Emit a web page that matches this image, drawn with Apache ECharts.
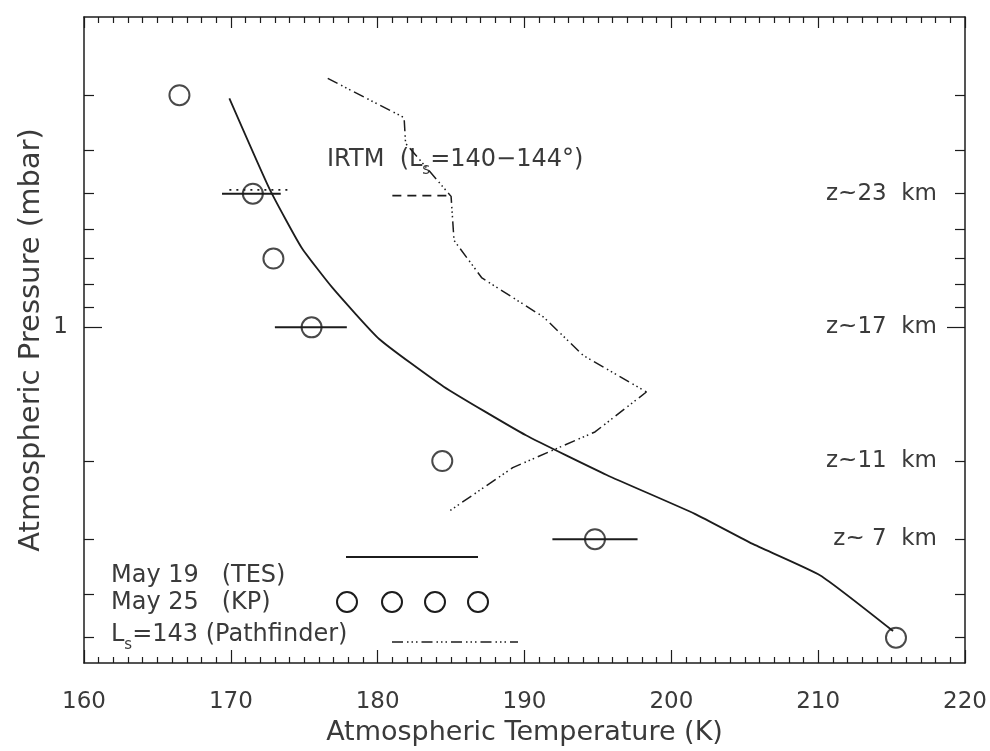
<!DOCTYPE html>
<html><head><meta charset="utf-8">
<script src="https://cdn.jsdelivr.net/npm/echarts@6/dist/echarts.min.js"></script>
<style>html,body{margin:0;padding:0;background:#fff}#c{width:990px;height:751px}</style>
</head><body><div id="c"></div>
<script>
// ---- data ----
const xTickValues = [160, 170, 180, 190, 200, 210, 220];
const pMinorTicks = [0.3, 0.4, 0.5, 0.6, 0.7, 0.8, 0.9, 2, 3, 4, 5];
const pMajorTicks = [1];
const zLabelValues = [0.5, 1, 2, 3];
const zLabels = ['z~23  km', 'z~17  km', 'z~11  km', 'z~ 7  km'];

// TES (May 19) profile
const tesT = [169.9, 172.65, 174.8, 176.9, 180.1, 184.5, 190.1, 195.6, 201.6, 205.5, 210.15, 215.1];
const tesP = [0.305, 0.489, 0.66, 0.813, 1.062, 1.36, 1.75, 2.15, 2.63, 3.07, 3.62, 4.83];

// KP (May 25) points
const kpT = [166.5, 171.5, 172.9, 175.5, 184.4, 194.8, 215.3];
const kpP = [0.3, 0.5, 0.7, 1.0, 2.0, 3.0, 5.0];

// horizontal range bars
const barP = [0.5, 1.0, 3.0];
const barLo = [169.4, 173.0, 191.9];
const barHi = [173.4, 177.9, 197.7];
const dotP = [0.49];
const dotLo = [169.9];
const dotHi = [173.9];
const dashP = [0.505];
const dashLo = [181.0];
const dashHi = [185.0];

// Pathfinder (Ls=143)
const pfT = [176.6, 181.8, 181.9, 185.0, 185.2, 187.1, 191.3, 194.0, 198.3, 194.8, 192.0, 189.2, 184.9];
const pfP = [0.275, 0.337, 0.385, 0.507, 0.637, 0.774, 0.948, 1.157, 1.398, 1.72, 1.886, 2.07, 2.59];

// ---- chart ----
const INK = '#1c1c1c';
const TXT = '#3a3a3a';
const FONT = 'DejaVu Sans';
const pfDash = [11, 4, 1.5, 3, 1.5, 3, 1.5, 4];

const zip = (a, b) => a.map((v, i) => [v, b[i]]);
const axisLine = { show: true, lineStyle: { color: INK, width: 1.5 } };
const tickStyle = { color: INK, width: 1.2 };

const baseY = {
  type: 'log', logBase: 10, min: 0.2, max: 5.7, inverse: true,
  splitLine: { show: false }, minorTick: { show: false }, minorSplitLine: { show: false }
};
const baseX = {
  type: 'value', min: 160, max: 220, interval: 10,
  splitLine: { show: false }, minorSplitLine: { show: false },
  axisLine: axisLine,
  axisTick: { show: true, inside: true, length: 13, lineStyle: tickStyle },
  minorTick: { show: true, splitNumber: 10, length: 6, lineStyle: tickStyle }
};

function zFormatter(v) {
  let best = 0, d = Infinity;
  zLabelValues.forEach((z, i) => {
    const dd = Math.abs(Math.log(z) - Math.log(v));
    if (dd < d) { d = dd; best = i; }
  });
  return zLabels[best];
}

const series = [];
series.push({
  name: 'TES', type: 'line', data: zip(tesT, tesP), showSymbol: false, symbol: 'none', smooth: 0.15,
  lineStyle: { color: INK, width: 1.8 }, z: 3, silent: true
});
barP.forEach((p, i) => series.push({
  type: 'line', data: [[barLo[i], p], [barHi[i], p]], symbol: 'none',
  lineStyle: { color: INK, width: 2 }, z: 3, silent: true
}));
dotP.forEach((p, i) => series.push({
  type: 'line', data: [[dotLo[i], p], [dotHi[i], p]], symbol: 'none',
  lineStyle: { color: INK, width: 1.8, type: [2, 5] }, z: 3, silent: true
}));
dashP.forEach((p, i) => series.push({
  type: 'line', data: [[dashLo[i], p], [dashHi[i], p]], symbol: 'none',
  lineStyle: { color: INK, width: 1.8, type: [9, 6] }, z: 3, silent: true
}));
series.push({
  name: 'Pathfinder', type: 'line', data: zip(pfT, pfP), symbol: 'none',
  lineStyle: { color: INK, width: 1.5, type: pfDash }, z: 3, silent: true
});
series.push({
  name: 'KP', type: 'scatter', data: zip(kpT, kpP), symbol: 'circle', symbolSize: 20,
  itemStyle: { color: 'rgba(0,0,0,0)', borderColor: INK, borderWidth: 2 }, z: 4, silent: true
});

const txt = (fs) => ({ fontFamily: FONT, fontSize: fs, fill: TXT });
const rich = (fs) => ({
  n: { fontFamily: FONT, fontSize: fs, fill: TXT, lineHeight: 36, verticalAlign: 'middle' },
  s: { fontFamily: FONT, fontSize: Math.round(fs * 0.62), fill: TXT, lineHeight: 36, verticalAlign: 'bottom' }
});

const graphic = [
  { type: 'text', left: 327, top: 148, style: { text: '{n|IRTM  (L}{s|s}{n|=140−144°)}', rich: rich(24) } },
  { type: 'text', left: 111, top: 564, style: Object.assign({ text: 'May 19   (TES)' }, txt(24)) },
  { type: 'text', left: 111, top: 591, style: Object.assign({ text: 'May 25   (KP)' }, txt(24)) },
  { type: 'text', left: 111, top: 623, style: { text: '{n|L}{s|s}{n|=143 (Pathfinder)}', rich: rich(24) } },
  { type: 'line', shape: { x1: 346, y1: 557, x2: 478, y2: 557 }, style: { stroke: INK, lineWidth: 1.8 } },
  { type: 'line', shape: { x1: 392, y1: 642, x2: 518, y2: 642 }, style: { stroke: INK, lineWidth: 1.5, lineDash: pfDash } }
];
[347, 392, 435, 478].forEach(cx => graphic.push({
  type: 'circle', shape: { cx: cx, cy: 602, r: 10 }, style: { fill: 'none', stroke: INK, lineWidth: 2 }
}));

const option = {
  backgroundColor: '#ffffff',
  animation: false,
  grid: { left: 84, right: 25, top: 17, bottom: 87, containLabel: false },
  xAxis: [
    Object.assign({}, baseX, {
      position: 'bottom',
      axisLabel: { show: true, margin: 28, fontFamily: FONT, fontSize: 23, color: TXT,
        customValues: xTickValues },
      name: 'Atmospheric Temperature (K)', nameLocation: 'middle', nameGap: 56,
      nameTextStyle: { fontFamily: FONT, fontSize: 27, color: TXT }
    }),
    Object.assign({}, baseX, {
      position: 'top',
      axisTick: { show: true, inside: true, length: 11, lineStyle: tickStyle },
      axisLabel: { show: false }
    })
  ],
  yAxis: [
    Object.assign({}, baseY, {
      position: 'left', axisLine: axisLine,
      axisTick: { show: true, inside: true, length: 10, customValues: pMinorTicks, lineStyle: tickStyle },
      axisLabel: { show: false },
      name: 'Atmospheric Pressure (mbar)', nameLocation: 'middle', nameGap: 38, nameRotate: 90,
      nameTextStyle: { fontFamily: FONT, fontSize: 29, color: TXT }
    }),
    Object.assign({}, baseY, {
      position: 'left', axisLine: { show: false },
      axisTick: { show: true, inside: true, length: 18, customValues: pMajorTicks, lineStyle: tickStyle },
      axisLabel: { show: true, customValues: pMajorTicks, margin: 16, fontFamily: FONT, fontSize: 23, color: TXT,
        formatter: v => String(Math.round(v)) }
    }),
    Object.assign({}, baseY, {
      position: 'right', axisLine: axisLine,
      axisTick: { show: true, inside: true, length: 10, customValues: pMinorTicks, lineStyle: tickStyle },
      axisLabel: { show: true, inside: true, customValues: zLabelValues, margin: 28,
        fontFamily: FONT, fontSize: 23, color: TXT, formatter: zFormatter }
    }),
    Object.assign({}, baseY, {
      position: 'right', axisLine: { show: false },
      axisTick: { show: true, inside: true, length: 18, customValues: pMajorTicks, lineStyle: tickStyle },
      axisLabel: { show: false }
    })
  ],
  series: series,
  graphic: graphic
};

const chart = echarts.init(document.getElementById('c'), null, { renderer: 'canvas' });
chart.setOption(option);
</script>
</body></html>
